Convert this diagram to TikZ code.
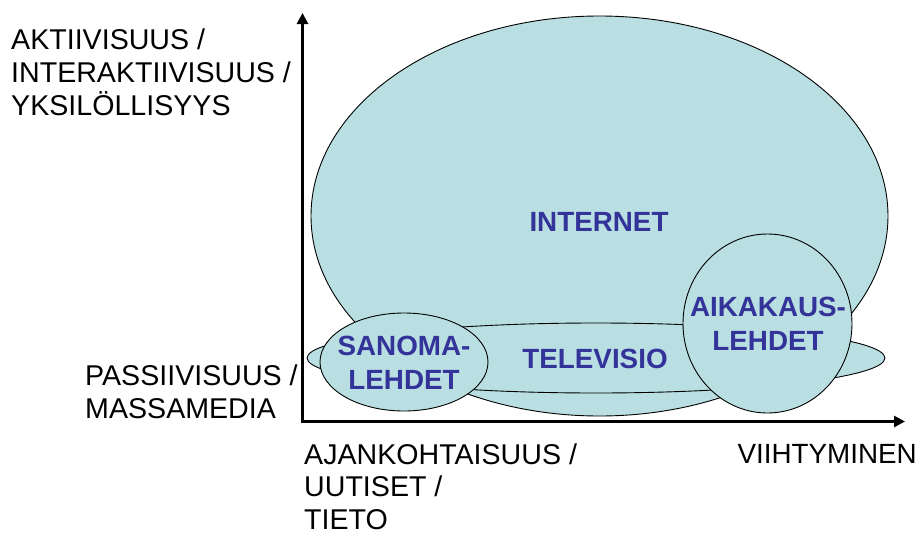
\documentclass[tikz,border=0pt]{standalone}
\usepackage{fontspec}
\setmainfont{Liberation Sans}
\usetikzlibrary{arrows.meta,shapes.geometric}

\definecolor{mediafill}{HTML}{B9DFE2}
\definecolor{medialabel}{HTML}{333399}

\tikzset{
  mediablob/.style={ellipse, draw=black, line width=0.9pt, fill=mediafill,
                    inner sep=0pt, outer sep=0pt},
  medianame/.style={font=\fontsize{27.8}{33.5}\selectfont\bfseries,
                    text=medialabel, align=center, inner sep=0pt},
  axislabel/.style={font=\fontsize{28.6}{33}\selectfont, text=black,
                    align=left, inner sep=0pt},
  axisline/.style={line width=3pt, line join=miter,
                   {Triangle[width=11pt,length=11pt]}-{Triangle[width=11pt,length=11pt]}},
}

\begin{document}
\begin{tikzpicture}[x=1pt,y=-1pt]
  \useasboundingbox (0,0) rectangle (919,536);

  % media areas, back to front
  \node[mediablob, minimum width=577pt, minimum height=400pt] (internet) at (599.5,216) {};
  \node[mediablob, minimum width=578pt, minimum height=70pt]  (tv)       at (596,358) {};
  \node[mediablob, minimum width=168pt, minimum height=98pt]  (sanoma)   at (404,362) {};
  \node[mediablob, minimum width=169pt, minimum height=179pt] (aikakaus) at (767.5,323.5) {};

  % names of the media
  \node[medianame, anchor=base]  (internetname) at (599,231)   {INTERNET};
  \node[medianame, anchor=base]  (tvname)       at (595,368)   {TELEVISIO};
  \node[medianame, anchor=north] (sanomaname)   at (404,336.2) {SANOMA-\\LEHDET};
  \node[medianame, anchor=north] (aikaname)     at (768,297.2) {AIKAKAUS-\\LEHDET};

  % axes
  \coordinate (ytip)   at (302.5,13);
  \coordinate (origin) at (302.5,421.5);
  \coordinate (xtip)   at (905,421.5);
  \draw[axisline] (ytip) -- (origin) -- (xtip);

  % axis descriptions
  \node[axislabel, anchor=north west] (active)  at (11,28.5)  {AKTIIVISUUS /\\INTERAKTIIVISUUS /\\YKSILÖLLISYYS};
  \node[axislabel, anchor=north west] (passive) at (85,365)   {PASSIIVISUUS /\\MASSAMEDIA};
  \node[axislabel, anchor=north west, font=\fontsize{28.6}{32.5}\selectfont]
       (news) at (304,443.5) {AJANKOHTAISUUS /\\UUTISET /\\TIETO};
  \node[axislabel, anchor=base east, font=\fontsize{27.8}{33}\selectfont]
       (fun) at (917,463) {VIIHTYMINEN};
\end{tikzpicture}
\end{document}
